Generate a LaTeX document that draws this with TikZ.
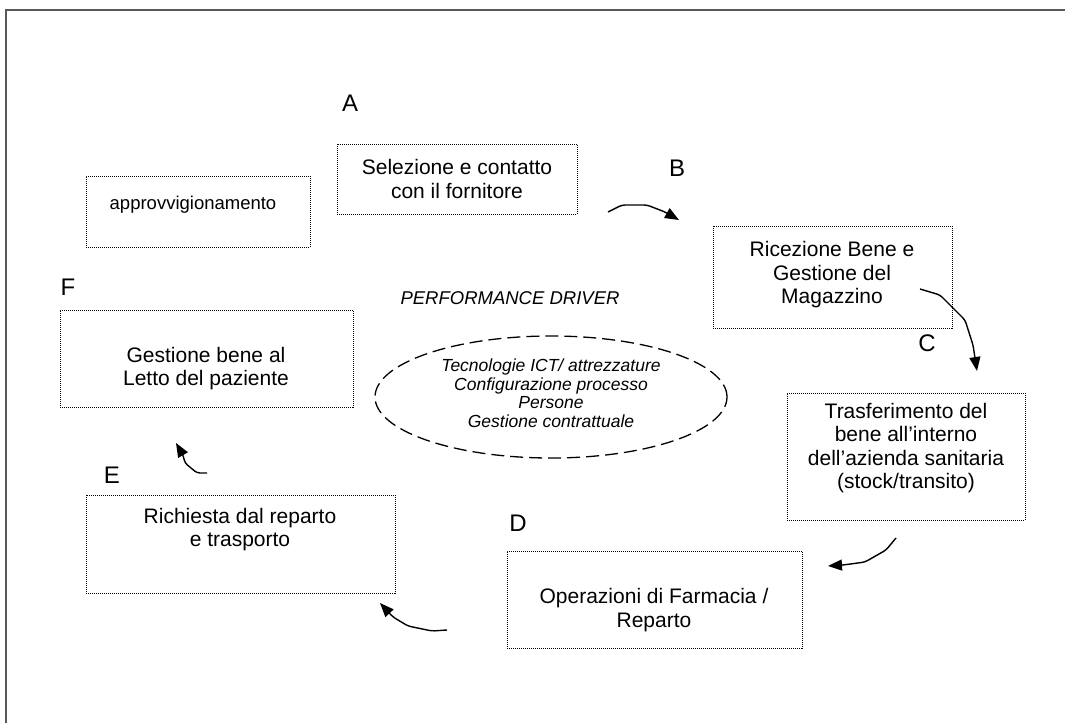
\documentclass[tikz,border=0pt]{standalone}
\usepackage{fontspec}
\setmainfont{Liberation Sans}
\usetikzlibrary{arrows.meta,shapes.geometric}

\tikzset{
  stage/.style={draw=black, line width=0.9pt, dash pattern=on 1pt off 1pt, inner sep=0pt},
  stagetext/.style={align=center, inner sep=0pt, font=\fontsize{21}{23.5}\selectfont},
  letter/.style={inner sep=0pt, font=\fontsize{24}{28}\selectfont},
  flow/.style={line width=1.4pt, rounded corners=3pt, -{Triangle[length=14pt,width=11pt]}},
  driver/.style={draw=black, line width=1.3pt, dash pattern=on 13pt off 6pt, ellipse, inner sep=0pt}
}

\begin{document}
\begin{tikzpicture}[x=1pt,y=-1pt]
\useasboundingbox (0,0) rectangle (1065,723);
\fill[white] (0,0) rectangle (1065,723);

% page frame
\draw[line width=1.5pt, draw=black!65] (6,723) -- (6,10) -- (1065,10);

% stage boxes
\node[stage, minimum width=224pt, minimum height=71pt]  (boxP) at (198,211.5) {};
\node[stage, minimum width=240pt, minimum height=70pt]  (boxA) at (457,179) {};
\node[stage, minimum width=239pt, minimum height=102pt] (boxB) at (832.5,277) {};
\node[stage, minimum width=238pt, minimum height=127pt] (boxC) at (906,456.5) {};
\node[stage, minimum width=295pt, minimum height=97pt]  (boxD) at (654.5,599.5) {};
\node[stage, minimum width=309pt, minimum height=98pt]  (boxE) at (240.5,544) {};
\node[stage, minimum width=293pt, minimum height=97pt]  (boxF) at (206.5,358.5) {};

% stage texts
\node[stagetext, font=\fontsize{18.5}{22}\selectfont] (tP) at (193,205) {approvvigionamento};
\node[stagetext] (tA) at (457,179) {Selezione e contatto\\con il fornitore};
\node[stagetext] (tB) at (832,275) {Ricezione Bene e\\Gestione del\\Magazzino};
\node[stagetext] (tC) at (906,448) {Trasferimento del\\bene all’interno\\dell’azienda sanitaria\\(stock/transito)};
\node[stagetext] (tD) at (654,610) {Operazioni di Farmacia /\\Reparto};
\node[stagetext] (tE) at (240,529.5) {Richiesta dal reparto\\e trasporto};
\node[stagetext] (tF) at (206,368.5) {Gestione bene al\\Letto del paziente};

% stage letters
\node[letter] (lA) at (350,103) {A};
\node[letter] (lB) at (677,168) {B};
\node[letter] (lC) at (927,343) {C};
\node[letter] (lD) at (518,523) {D};
\node[letter] (lE) at (112,475) {E};
\node[letter] (lF) at (68,287) {F};

% performance drivers
\node[inner sep=0pt, font=\fontsize{18.5}{20}\selectfont\itshape] (pd) at (510,298) {PERFORMANCE DRIVER};
\node[driver, minimum width=352pt, minimum height=122pt] (ell) at (551,397) {};
\node[align=center, inner sep=0pt, font=\fontsize{17.5}{18.5}\selectfont\itshape] (tdrv) at (551,393)
  {Tecnologie ICT/ attrezzature\\Configurazione processo\\Persone\\Gestione contrattuale};

% arrow end points
\coordinate (ab0) at (608,212);  \coordinate (ab1) at (679,220);
\coordinate (bc0) at (920,289);  \coordinate (bc1) at (977,371);
\coordinate (cd0) at (896,538);  \coordinate (cd1) at (828,566);
\coordinate (de0) at (447,630);  \coordinate (de1) at (380,603);
\coordinate (ef0) at (207,473);  \coordinate (ef1) at (176,443);

% cycle arrows
\draw[flow] (ab0) -- (622,205) -- (647,205) -- (665,212) -- (ab1);
\draw[flow] (bc0) -- (940,295) -- (965,320) -- (973,345) -- (bc1);
\draw[flow] (cd0) -- (886,550) -- (865,562) -- (843,565) -- (cd1);
\draw[flow] (de0) -- (432,631) -- (408,626) -- (393,617) -- (de1);
\draw[flow] (ef0) -- (197,473) -- (185,463) -- (183,455) -- (ef1);
\end{tikzpicture}
\end{document}
